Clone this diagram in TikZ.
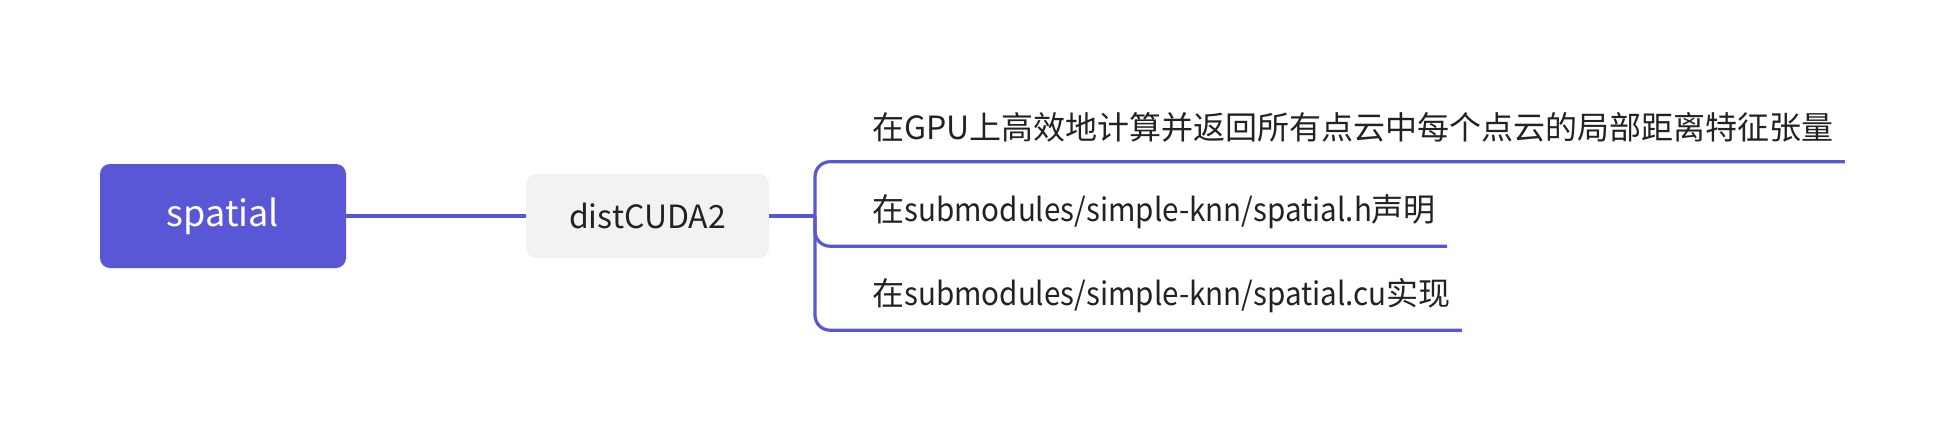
\documentclass[tikz,border=0pt]{standalone}
\usepackage{fontspec}
\setmainfont{Noto Sans CJK SC}
\newfontfamily\pathfont[FakeStretch=0.925]{Noto Sans CJK SC}
\usepackage{xcolor}
\definecolor{mmblue}{HTML}{5A57D6}
\definecolor{mmgray}{HTML}{F2F2F2}
\definecolor{mmtext}{HTML}{222222}

\begin{document}
\begin{tikzpicture}[x=1pt,y=-1pt,
    rootbox/.style={fill=mmblue, rounded corners=10pt, minimum width=246pt, minimum height=104pt,
      text=white, font=\fontsize{36}{40}\selectfont},
    subbox/.style={fill=mmgray, rounded corners=10pt, minimum width=243pt, minimum height=84pt,
      text=mmtext, font=\fontsize{32}{36}\selectfont},
    leaf/.style={anchor=west, inner xsep=11pt, inner ysep=0pt, minimum height=68pt,
      text=mmtext, font=\fontsize{32}{36}\selectfont},
    branch/.style={draw=mmblue, line width=3.2pt, rounded corners=15pt}]
      \useasboundingbox (0,0) rectangle (1938,432);
      \node[rootbox] (spatial) at (223,216) {spatial};
      \node[subbox] (dist) at (647.5,216) {distCUDA2};
      \coordinate (hub) at (815,216);
      \node[leaf] (gpu) at (861,127.5) {在GPU上高效地计算并返回所有点云中每个点云的局部距离特征张量};
      \node[leaf] (decl) at (861,212) {在{\pathfont submodules/simple-knn/spatial.h}声明};
      \node[leaf] (impl) at (861,296) {在{\pathfont submodules/simple-knn/spatial.cu}实现};
      \draw [branch] (spatial.east) -- (dist.west);
      \draw [branch] (dist.east) -- (hub);
      \draw [branch] (hub) |- (gpu.south east);
      \draw [branch] (hub) |- (decl.south east);
      \draw [branch] (hub) |- (impl.south east);
    \end{tikzpicture}
\end{document}
